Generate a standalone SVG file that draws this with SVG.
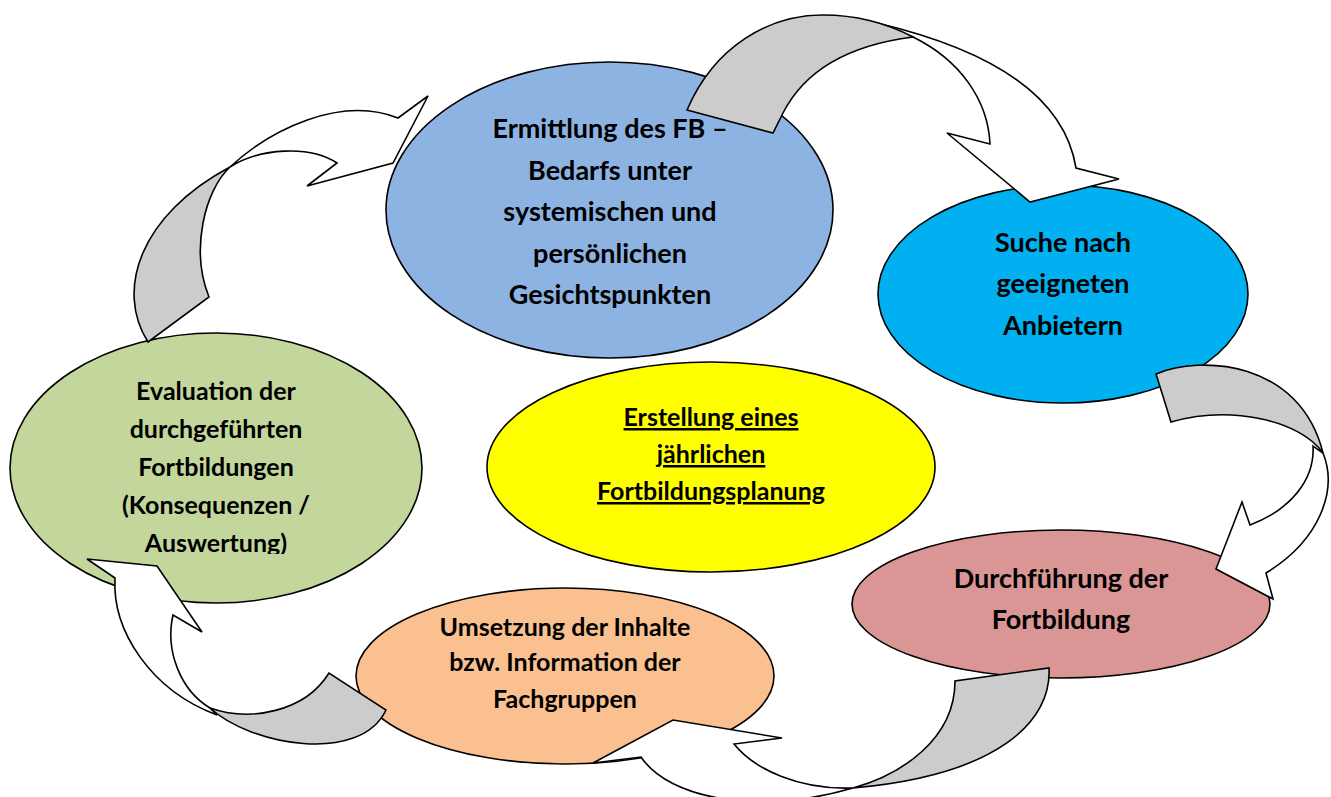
<svg xmlns="http://www.w3.org/2000/svg" width="1331" height="797" viewBox="0 0 1331 797">
<style>
.node{stroke:#000;stroke-width:1.6}
.t{font-family:Lato,"Liberation Sans",sans-serif;font-weight:700;fill:#000;text-anchor:middle}
.w{fill:#fff;stroke:#000;stroke-width:1.6;stroke-linejoin:miter}
.g{fill:#cccccc;stroke:#000;stroke-width:1.6;stroke-linejoin:miter}
</style>
<defs>
<clipPath id="clipGreen"><rect x="0" y="330" width="430" height="224"/></clipPath>
</defs>
<rect width="1331" height="797" fill="#fff"/>
<g id="node-ermittlung">
<ellipse class="node" cx="609.5" cy="210" rx="223.5" ry="148" fill="#8DB3E2"/>
<text class="t" font-size="27"><tspan x="610" y="138">Ermittlung des FB –</tspan><tspan x="610" y="179.5">Bedarfs unter</tspan><tspan x="610" y="221">systemischen und</tspan><tspan x="610" y="262.5">persönlichen</tspan><tspan x="610" y="304">Gesichtspunkten</tspan></text>
</g>
<g id="node-suche">
<ellipse class="node" cx="1063" cy="294" rx="185" ry="109" fill="#00B0F0"/>
<text class="t" font-size="27"><tspan x="1063" y="252">Suche nach</tspan><tspan x="1063" y="293">geeigneten</tspan><tspan x="1063" y="335">Anbietern</tspan></text>
</g>
<g id="node-durchfuehrung">
<ellipse class="node" cx="1061" cy="604" rx="209" ry="74" fill="#D99694"/>
<text class="t" font-size="27"><tspan x="1061" y="588">Durchführung der</tspan><tspan x="1061" y="629">Fortbildung</tspan></text>
</g>
<g id="node-umsetzung">
<ellipse class="node" cx="565" cy="676" rx="209" ry="88" fill="#FAC090"/>
<text class="t" font-size="25"><tspan x="565" y="636">Umsetzung der Inhalte</tspan><tspan x="565" y="671">bzw. Information der</tspan><tspan x="565" y="708">Fachgruppen</tspan></text>
</g>
<g id="node-evaluation">
<ellipse class="node" cx="216" cy="468" rx="206" ry="135" fill="#C3D69B"/>
<text class="t" font-size="25" clip-path="url(#clipGreen)"><tspan x="216" y="400">Evaluation der</tspan><tspan x="216" y="438">durchgeführten</tspan><tspan x="216" y="476">Fortbildungen</tspan><tspan x="216" y="514">(Konsequenzen /</tspan><tspan x="216" y="552">Auswertung)</tspan></text>
</g>
<g id="node-erstellung">
<ellipse class="node" cx="711" cy="467" rx="224" ry="105" fill="#FFFF00"/>
<text class="t" font-size="25" text-decoration="underline"><tspan x="711" y="426">Erstellung eines</tspan><tspan x="711" y="463">jährlichen</tspan><tspan x="711" y="500">Fortbildungsplanung</tspan></text>
</g>
<g id="connectors">
<g id="arrow-1">
<path class="w" d="M913,37 C960,60 988,100 990,144 L947,133 L1030,202 L1119,179 L1076,168 C1065,100 1000,52 877,23 Z"/>
<path class="g" d="M687,110 C715,45 770,15 823,15 C860,15 890,25 913,37 C850,45 805,70 783,113 L773,133 Z"/>
</g>
<g id="arrow-2">
<path class="w" d="M1313,446 C1315,480 1290,510 1250,525 L1242,502 L1216,569 L1273,599 L1266,573 C1320,540 1338,490 1323,453 Z"/>
<path class="g" d="M1156,374 C1200,355 1300,360 1323,453 C1300,420 1230,405 1171,422 Z"/>
</g>
<g id="arrow-3">
<path class="w" d="M853,788 C800,790 755,770 734,744 L782,738 L673,720 L593,763 L641,757 C670,800 760,815 853,788 Z"/>
<path class="g" d="M1049,668 C1052,720 1000,775 853,788 C900,775 955,740 955,681 Z"/>
</g>
<g id="arrow-4">
<path class="w" d="M210,708 C180,690 165,650 173,615 L202,632 L157,566 L87,559 L115,578 C112,630 150,690 217,715 Z"/>
<path class="g" d="M329,673 C305,712 250,722 210,708 C250,745 360,765 386,710 Z"/>
</g>
<g id="arrow-5">
<path class="w" d="M230,167 C270,130 340,95 398,118 L428,96 L393,163 L307,186 L337,163 C310,145 260,148 230,167 Z"/>
<path class="g" d="M148,342 C115,290 140,215 230,167 C205,190 190,250 209,297 Z"/>
</g>
</g>
</svg>
